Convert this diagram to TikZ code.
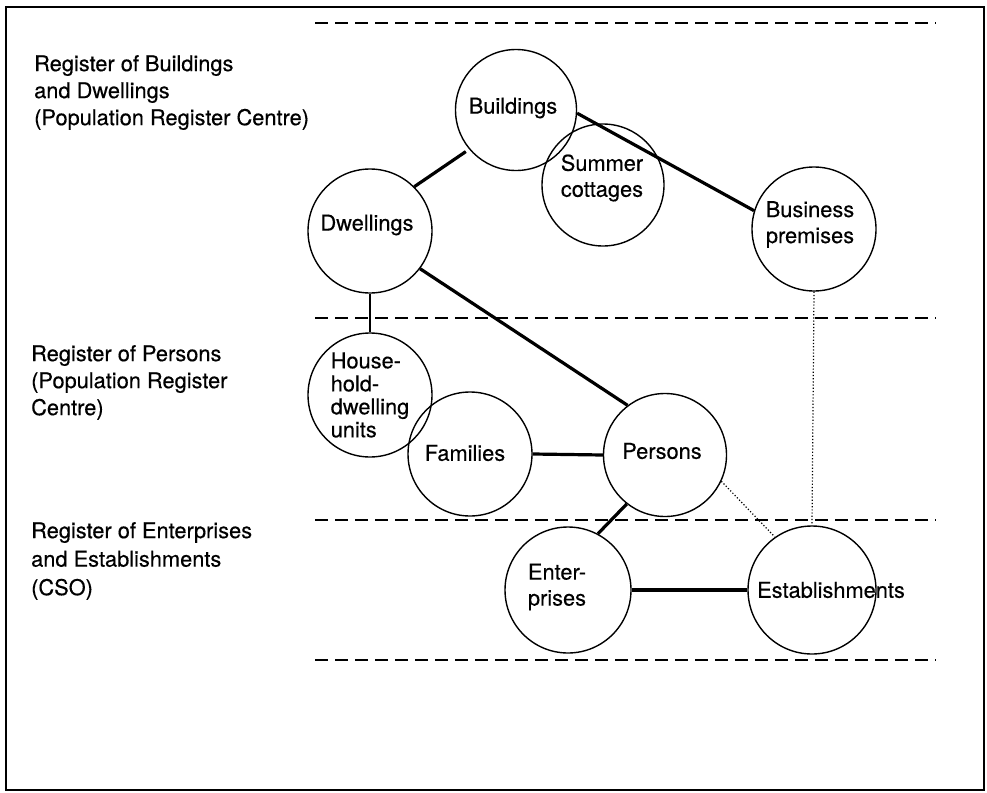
\documentclass[tikz,border=0pt]{standalone}
\usepackage{fontspec}
\setmainfont{TeX Gyre Heros}[FakeBold=0.35]
\begin{document}
\begin{tikzpicture}[x=1pt,y=-1pt,
  circ/.style={draw, circle, line width=1.4pt, inner sep=0pt, minimum size=124pt},
  lbl/.style={inner sep=0pt, align=center, font=\fontsize{21.8}{26}\selectfont},
  reglbl/.style={inner sep=0pt, align=left, anchor=north west, font=\fontsize{21.8}{27}\selectfont},
  conn/.style={line width=3.2pt},
  dots/.style={line width=1.2pt, dash pattern=on 1.2pt off 2pt},
  sep/.style={line width=1.8pt, dash pattern=on 13pt off 7pt},
  frame/.style={line width=2pt}]
\useasboundingbox (0,0) rectangle (987,792);
\draw[frame] (6,7) rectangle (984,790);

% separators
\coordinate (s1a) at (315,23);  \coordinate (s1b) at (936,23);
\coordinate (s2a) at (315,318); \coordinate (s2b) at (936,318);
\coordinate (s3a) at (315,520); \coordinate (s3b) at (936,520);
\coordinate (s4a) at (315,660); \coordinate (s4b) at (936,660);
\draw[sep] (s1a) -- (s1b);
\draw[sep] (s2a) -- (s2b);
\draw[sep] (s3a) -- (s3b);
\draw[sep] (s4a) -- (s4b);

% register labels
\node[reglbl] (r1) at (34,55) {Register of Buildings\\and Dwellings\\(Population Register Centre)};
\node[reglbl] (r2) at (31,345) {Register of Persons\\(Population Register\\Centre)};
\node[reglbl, font=\fontsize{21.8}{28.5}\selectfont] (r3) at (31,522) {Register of Enterprises\\and Establishments\\(CSO)};

% circles
\node[circ, minimum size=121pt] (bu) at (516,110) {};
\node[circ, minimum size=122pt] (sc) at (603,185) {};
\node[circ] (bp) at (814,229) {};
\node[circ] (dw) at (370,231) {};
\node[circ] (hh) at (370,395) {};
\node[circ] (fa) at (470,454) {};
\node[circ, minimum size=123pt] (pe) at (665,455) {};
\node[circ, minimum size=126pt] (en) at (568,590) {};
\node[circ, minimum size=128pt] (es) at (812,590) {};

% texts
\node[lbl] (but) at (513,108) {Buildings};
\node[lbl] (sct) at (602,178) {Summer\\cottages};
\node[lbl] (bpt) at (810,224.5) {Business\\premises};
\node[lbl] (dwt) at (367,225) {Dwellings};
\node[lbl, align=left, font=\fontsize{21.8}{23}\selectfont] (hht) at (370,395) {House-\\hold-\\dwelling\\units};
\node[lbl] (fat) at (465,453) {Families};
\node[lbl] (pet) at (662,451) {Persons};
\node[lbl] (ent) at (557,587) {Enter-\\prises};
\node[lbl] (est) at (831,590) {Establishments};

% connectors
\draw[conn, shorten <=4pt] (bu.220) -- (dw.45);
\draw[conn] (bu.-3) -- (bp.163);
\draw[conn] (dw.-37) -- (pe.127);
\draw[line width=2pt] (dw.south) -- (hh.north);
\draw[conn] (fa.east) -- (pe.west);
\draw[conn] (pe.232) -- (en.62);
\draw[conn] (en.east) -- (es.west);
\draw[dots] (bp.south) -- (es.north);
\draw[dots] (pe.-25) -- (es.125);
\end{tikzpicture}
\end{document}
